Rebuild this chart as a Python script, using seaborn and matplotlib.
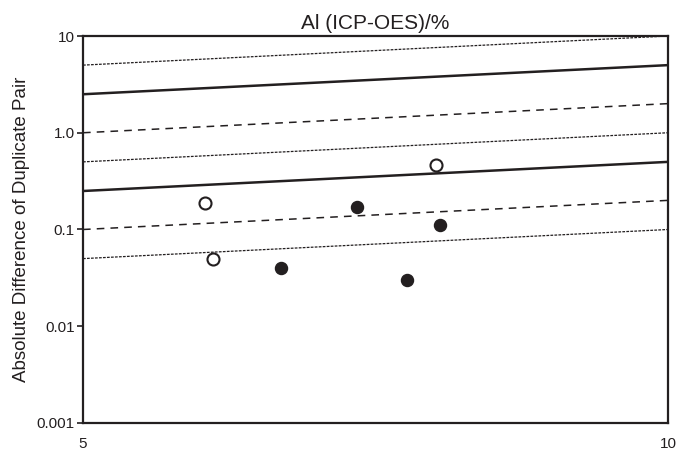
import matplotlib
matplotlib.use("Agg")
import matplotlib.pyplot as plt
import seaborn as sns
import numpy as np
import pandas as pd
from matplotlib.ticker import FixedLocator, NullLocator

# Data
conc_open = [5.78, 5.835, 7.60]
diff_open = [0.19, 0.050, 0.46]
conc_filled = [6.32, 6.92, 7.34, 7.63]
diff_filled = [0.040, 0.17, 0.030, 0.11]

# Precision reference lines: diff = factor * concentration
factors = [0.01, 0.02, 0.05, 0.1, 0.2, 0.5, 1.0]
styles = ["fine", "dash", "solid", "fine", "dash", "solid", "fine"]
x_range = [5, 10]

y_ticks = [0.001, 0.01, 0.1, 1.0, 10]
y_ticklabels = ["0.001", "0.01", "0.1", "1.0", "10"]
x_ticks = [5, 10]
x_ticklabels = ["5", "10"]

title = "Al (ICP-OES)/%"
ylabel = "Absolute Difference of Duplicate Pair"

sns.set_theme(style="white")
plt.rcParams["font.family"] = ["Liberation Sans", "DejaVu Sans"]
ink = "#231f20"

fig = plt.figure(figsize=(6.77, 4.54), dpi=100)
ax = fig.add_axes([0.1226, 0.0683, 0.8641, 0.8524])

style_map = {
    "fine": dict(linestyle=(0, (2.2, 1.0)), linewidth=0.9),
    "dash": dict(linestyle=(0, (5, 4)), linewidth=1.1),
    "solid": dict(linestyle="-", linewidth=1.8),
}
xs = np.array(x_range, dtype=float)
for f, s in zip(factors, styles):
    df_line = pd.DataFrame({"x": xs, "y": f * xs})
    sns.lineplot(data=df_line, x="x", y="y", ax=ax, color=ink, **style_map[s])

df_open = pd.DataFrame({"x": conc_open, "y": diff_open})
df_filled = pd.DataFrame({"x": conc_filled, "y": diff_filled})
sns.scatterplot(data=df_open, x="x", y="y", ax=ax, s=75, facecolor="white",
                edgecolor=ink, linewidth=1.5, zorder=5)
sns.scatterplot(data=df_filled, x="x", y="y", ax=ax, s=75, color=ink,
                edgecolor=ink, linewidth=1.0, zorder=5)

ax.set_xscale("log")
ax.set_yscale("log")
ax.set_xlim(5, 10)
ax.set_ylim(0.001, 10)

ax.yaxis.set_major_locator(FixedLocator(y_ticks))
ax.set_yticklabels(y_ticklabels)
ax.yaxis.set_minor_locator(NullLocator())
ax.xaxis.set_major_locator(FixedLocator(x_ticks))
ax.set_xticklabels(x_ticklabels)
ax.xaxis.set_minor_locator(NullLocator())

ax.tick_params(axis="y", which="major", left=True, length=4, width=1.2,
               color=ink, labelsize=11, labelcolor=ink, pad=2)
ax.tick_params(axis="x", which="major", bottom=False, length=0,
               labelsize=11, labelcolor=ink, pad=10)

for sp in ax.spines.values():
    sp.set_visible(True)
    sp.set_color(ink)
    sp.set_linewidth(1.6)

ax.set_xlabel("")
ax.set_ylabel(ylabel, fontsize=13.5, color=ink, labelpad=5)
ax.set_title(title, fontsize=15, color=ink, pad=5)

fig.savefig("out.png", dpi=100)
